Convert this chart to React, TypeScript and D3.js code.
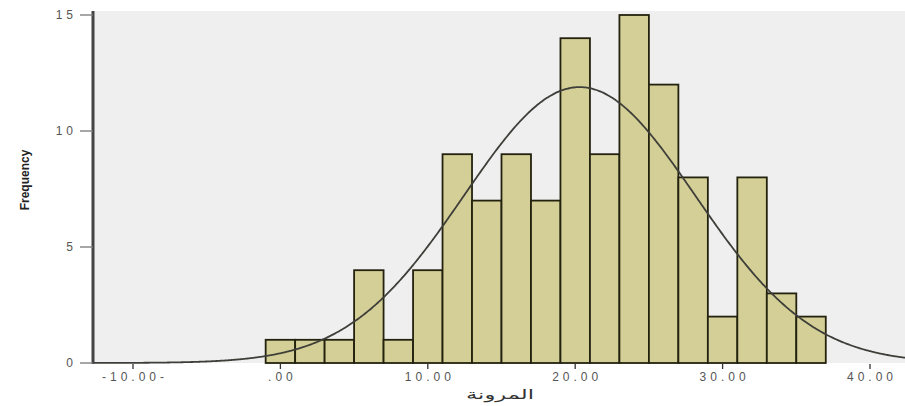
import React from "react";
import * as d3 from "d3";

// histogram bins (lower edges, width 2) and their counts
const binStarts = [-1, 1, 3, 5, 7, 9, 11, 13, 15, 17, 19, 21, 23, 25, 27, 29, 31, 33, 35];
const binWidth = 2;
const counts = [1, 1, 1, 4, 1, 4, 9, 7, 9, 7, 14, 9, 15, 12, 8, 2, 8, 3, 2];

const xTicks = [-10, 0, 10, 20, 30, 40];
const xTickLabels = ["-10.00-", ".00", "10.00", "20.00", "30.00", "40.00"];
const yTicks = [0, 5, 10, 15];

// normal curve
const curveMean = 20.3;
const curveSd = 7.85;

const W = 905;
const H = 406;
const plotLeft = 93;
const plotTop = 11;
const plotBottom = 363;

const App = () => {
  const x = d3.scaleLinear().domain([-10, 40]).range([133, 870]);
  const y = d3.scaleLinear().domain([0, 15]).range([plotBottom, 15]);

  const total = d3.sum(counts);
  const pdf = (v: number) =>
    (total * binWidth) / (curveSd * Math.sqrt(2 * Math.PI)) *
    Math.exp(-((v - curveMean) ** 2) / (2 * curveSd * curveSd));

  const xs = d3.range(x.invert(plotLeft), x.invert(W) + 0.1, 0.1);
  const line = d3.line<number>().x((d) => x(d)).y((d) => y(pdf(d))).curve(d3.curveBasis);

  return (
    <svg width={W} height={H} style={{ position: "absolute", left: 0, top: 0 }}>
      <rect x={plotLeft} y={plotTop} width={W - plotLeft} height={plotBottom - plotTop} fill="#efefef" />

      {binStarts.map((b, i) => (
        <rect
          key={i}
          x={x(b)}
          y={y(counts[i])}
          width={x(b + binWidth) - x(b)}
          height={y(0) - y(counts[i])}
          fill="#d4cf96"
          stroke="#23220f"
          strokeWidth={1.8}
        />
      ))}

      <path d={line(xs) || ""} fill="none" stroke="#3f3f3a" strokeWidth={1.8} />

      {/* y axis */}
      <line x1={plotLeft} x2={plotLeft} y1={plotTop} y2={plotBottom + 1} stroke="#444" strokeWidth={3} />
      {yTicks.map((t) => (
        <g key={t}>
          <line x1={80} x2={plotLeft} y1={y(t)} y2={y(t)} stroke="#777" strokeWidth={1.3} />
          <text
            x={77}
            y={y(t)}
            textAnchor="end"
            dominantBaseline="central"
            fontFamily="Arial, 'Liberation Sans', sans-serif"
            fontSize={12}
            letterSpacing={4}
            fill="#555"
          >
            {t}
          </text>
        </g>
      ))}

      {/* x axis ticks */}
      {xTicks.map((t, i) => (
        <g key={t}>
          <line x1={x(t)} x2={x(t)} y1={plotBottom + 1} y2={plotBottom + 6} stroke="#333" strokeWidth={1.3} />
          <text
            x={x(t) + 2}
            y={381}
            textAnchor="middle"
            fontFamily="Arial, 'Liberation Sans', sans-serif"
            fontSize={12}
            letterSpacing={4}
            fill="#555"
          >
            {xTickLabels[i]}
          </text>
        </g>
      ))}

      <text
        x={500}
        y={399}
        textAnchor="middle"
        fontFamily="'DejaVu Sans', Arial, sans-serif"
        fontSize={13}
        textLength={68}
        lengthAdjust="spacingAndGlyphs"
        fill="#333"
      >
        المرونة
      </text>

      <text
        transform="translate(29,180) rotate(-90)"
        textAnchor="middle"
        fontFamily="'Liberation Sans Narrow', Arial, sans-serif"
        fontWeight="bold"
        fontSize={12}
        fill="#222"
      >
        Frequency
      </text>
    </svg>
  );
};

export default App;
